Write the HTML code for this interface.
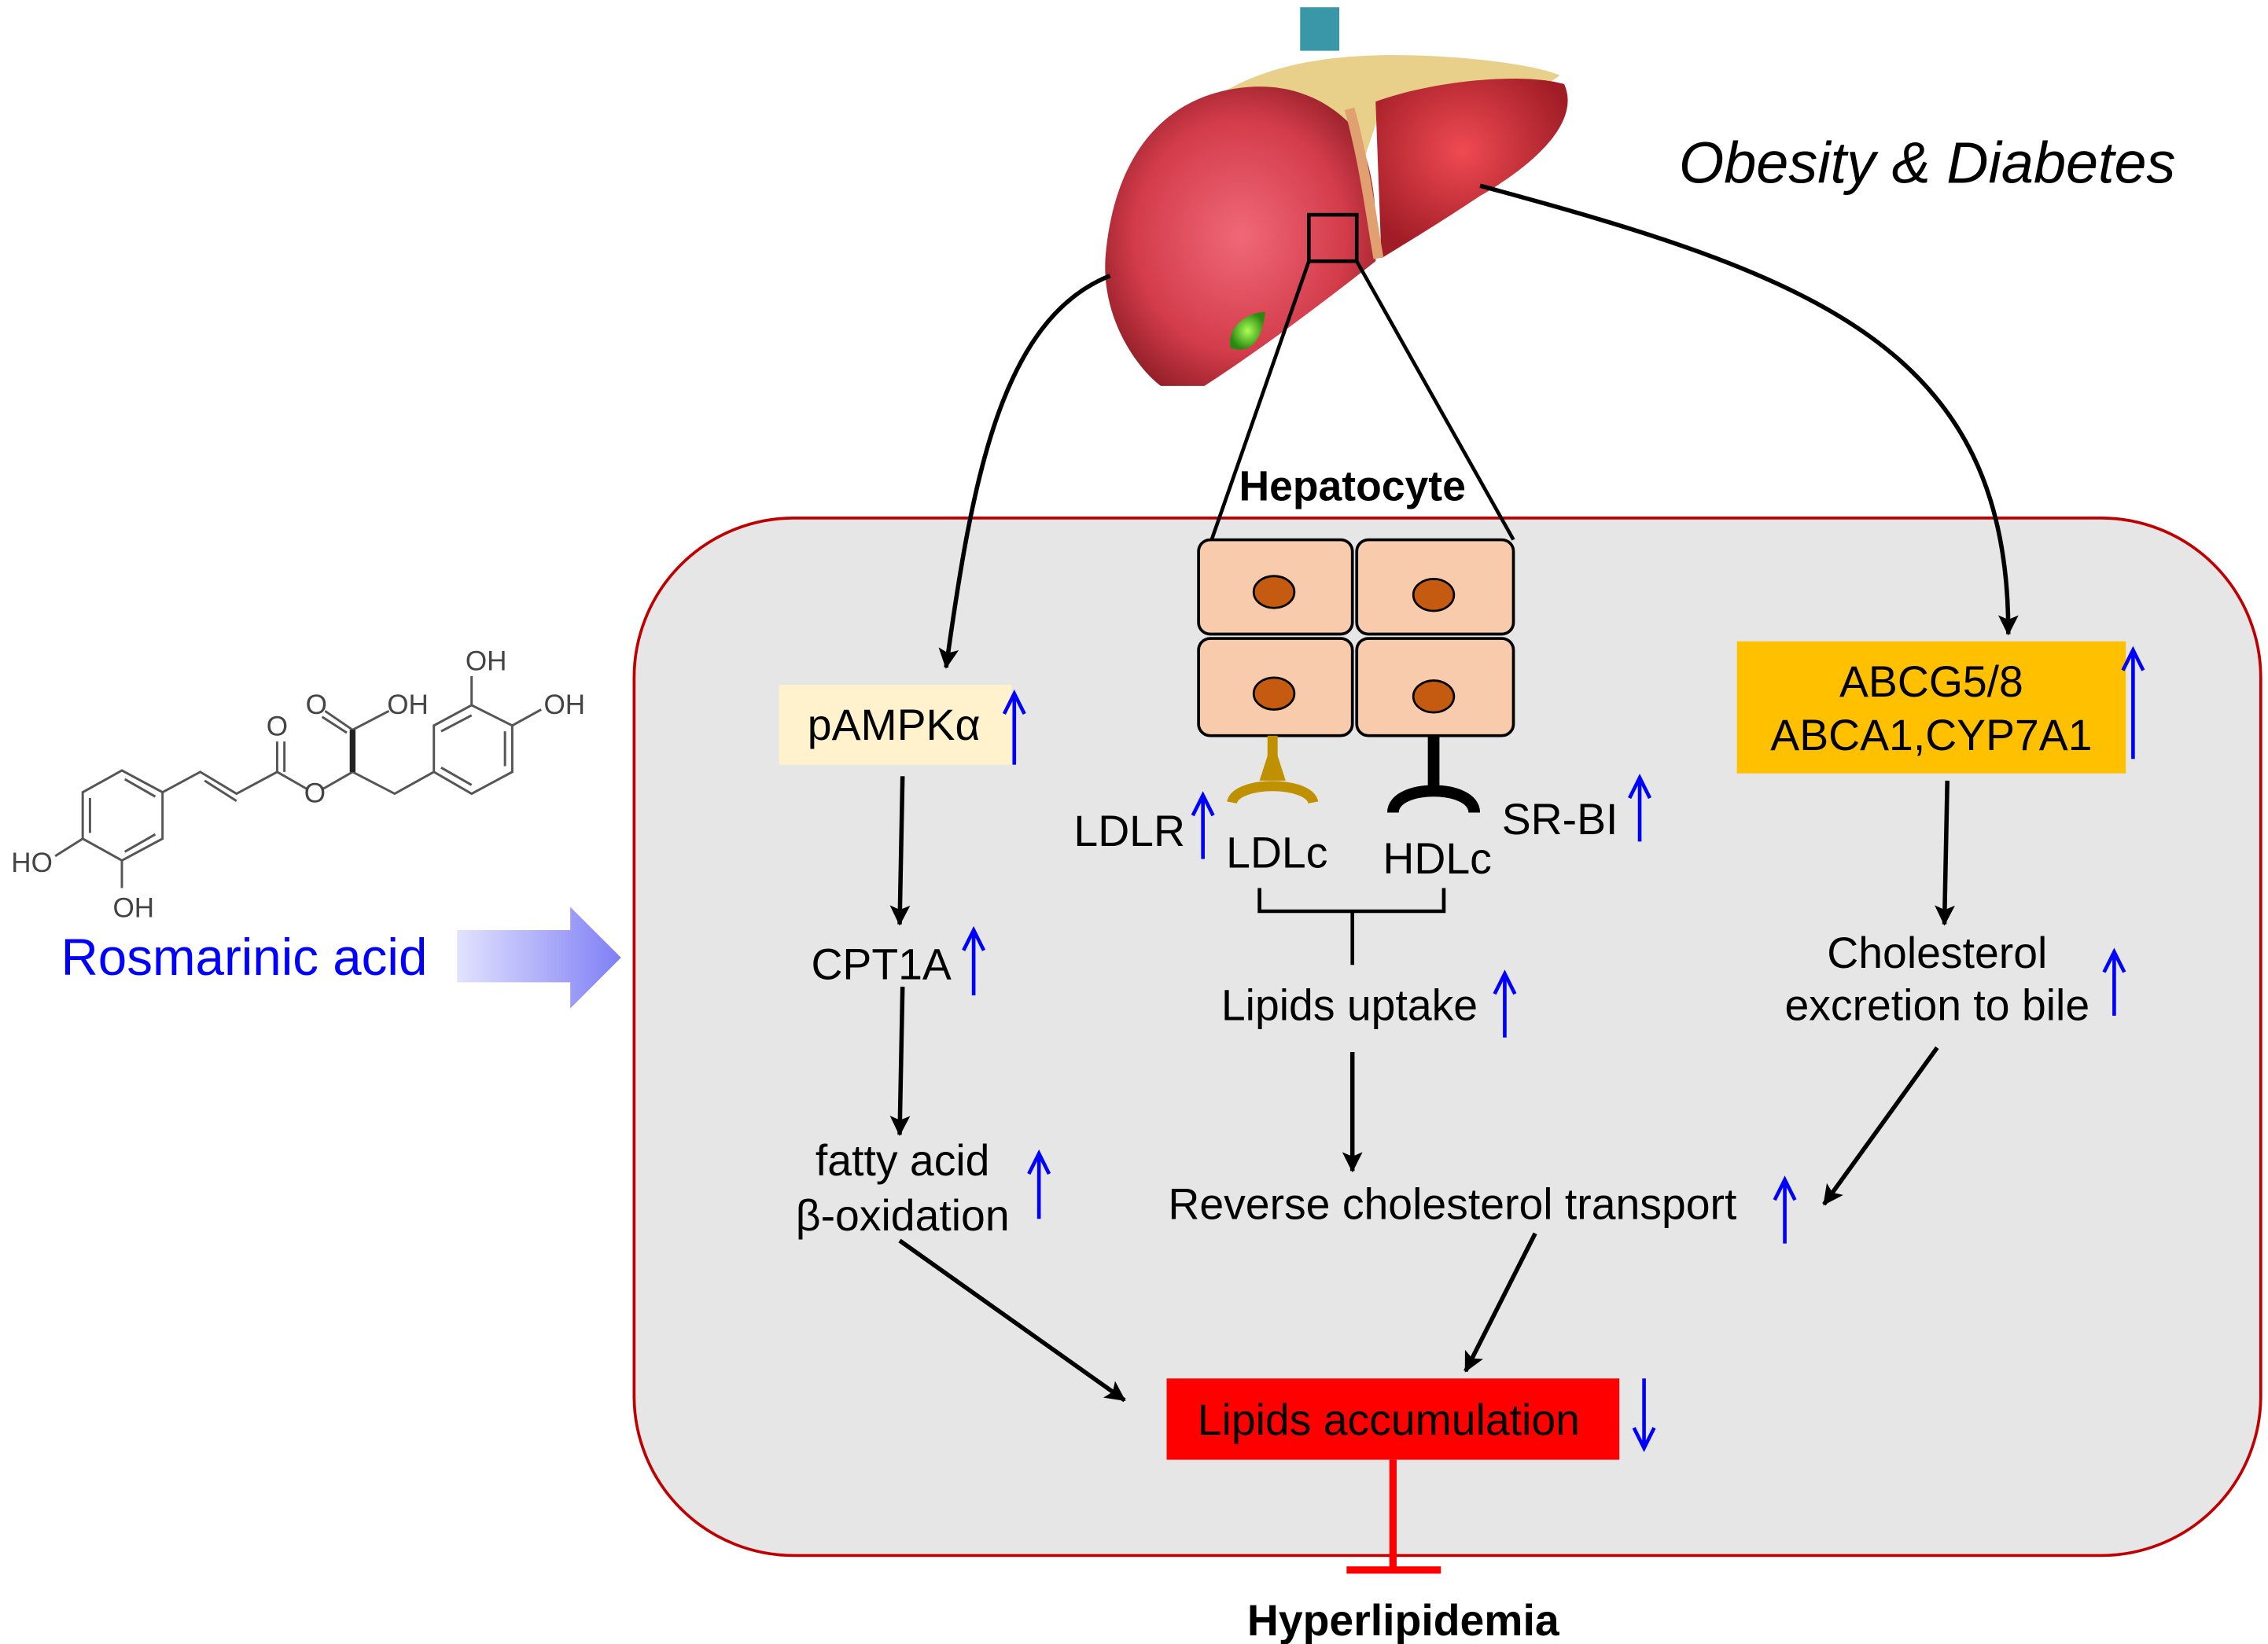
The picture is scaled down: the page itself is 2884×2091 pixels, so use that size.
<!DOCTYPE html>
<html><head><meta charset="utf-8"><style>
html,body{margin:0;padding:0;background:#fff;}
svg{display:block;}
text{font-family:"Liberation Sans",Arial,sans-serif;}
</style></head><body>
<svg width="2884" height="2091" viewBox="0 0 1563 1133" preserveAspectRatio="none" xmlns="http://www.w3.org/2000/svg">
<defs>
<marker id="ahs" markerWidth="18" markerHeight="18" refX="14" refY="8" orient="auto" markerUnits="userSpaceOnUse"><path d="M1,1 L15,8 L1,15 L4,8 Z" fill="#000"/></marker>
<linearGradient id="ga" x1="0" x2="1" y1="0" y2="0"><stop offset="0" stop-color="#e2e2ff"/><stop offset="1" stop-color="#7f7ff5"/></linearGradient>
<radialGradient id="lv" cx="0.5" cy="0.5" r="0.6"><stop offset="0" stop-color="#f06878"/><stop offset="0.65" stop-color="#d33c4a"/><stop offset="1" stop-color="#8c1c24"/></radialGradient>
<radialGradient id="lv2" cx="0.45" cy="0.4" r="0.6"><stop offset="0" stop-color="#ef4a52"/><stop offset="1" stop-color="#a01c26"/></radialGradient>
<radialGradient id="gb" cx="0.5" cy="0.5" r="0.5"><stop offset="0" stop-color="#aaff55"/><stop offset="1" stop-color="#2a8a10"/></radialGradient>
</defs>

<rect x="437" y="357" width="1121" height="715" rx="110" ry="110" fill="#e6e6e6" stroke="#c00000" stroke-width="2"/>

<!-- liver -->
<rect x="896" y="5" width="27" height="30" fill="#3a97a8"/>
<path d="M830,72 C860,50 900,38 960,38 C1010,38 1060,45 1075,52 L1060,62 C1000,60 960,70 950,80 L940,110 C920,80 880,65 830,72 Z" fill="#e8d08a"/>
<path d="M948,70 C990,55 1050,50 1078,58 C1090,85 1055,115 1020,135 C990,155 965,170 952,178 Z" fill="url(#lv2)"/>
<path d="M860,60 C800,65 768,110 762,175 C758,220 785,255 800,266 L830,266 C870,240 910,210 948,180 C950,140 945,105 930,85 C910,65 885,58 860,60 Z" fill="url(#lv)"/>
<path d="M930,75 C940,110 945,150 950,178" stroke="#e0a070" stroke-width="7" fill="none"/>
<path d="M848,240 C845,225 860,215 872,215 C870,230 865,245 848,240 Z" fill="url(#gb)"/>
<rect x="902" y="148" width="33" height="32" fill="none" stroke="#000" stroke-width="2.5"/>
<line x1="902" y1="180" x2="835" y2="372" stroke="#000" stroke-width="2.5"/>
<line x1="935" y1="180" x2="1043" y2="372" stroke="#000" stroke-width="2.5"/>

<path d="M765,190 C690,220 670,330 652,460" fill="none" stroke="#000" stroke-width="3" marker-end="url(#ahs)"/>
<path d="M1020,128 C1250,190 1385,240 1384,437" fill="none" stroke="#000" stroke-width="3" marker-end="url(#ahs)"/>

<text x="1157" y="126" font-size="40" font-style="italic">Obesity &amp; Diabetes</text>
<text x="932" y="345" font-size="29" font-weight="bold" text-anchor="middle">Hepatocyte</text>

<g fill="#f8cbad" stroke="#000" stroke-width="2">
<rect x="826" y="372" width="106" height="65" rx="8"/>
<rect x="935" y="372" width="108" height="65" rx="8"/>
<rect x="826" y="440" width="106" height="67" rx="8"/>
<rect x="935" y="440" width="108" height="67" rx="8"/>
</g>
<g fill="#c55a11" stroke="#000" stroke-width="1.5">
<ellipse cx="878" cy="408" rx="14" ry="11"/><ellipse cx="988" cy="410" rx="14" ry="11"/>
<ellipse cx="878" cy="478" rx="14" ry="11"/><ellipse cx="988" cy="480" rx="14" ry="11"/>
</g>
<path d="M877,507 L877,535 M849,553 C852,538 902,538 905,553" stroke="#bf9000" stroke-width="7" fill="none"/>
<path d="M868,538 L877,510 L886,538 Z" fill="#bf9000"/>
<path d="M988,507 L988,543 M960,560 C960,540 1016,540 1016,560" stroke="#000" stroke-width="8" fill="none"/>

<g font-size="30" fill="#000">
<text x="740" y="583">LDLR</text>
<text x="845" y="598">LDLc</text>
<text x="953" y="602">HDLc</text>
<text x="1035" y="575">SR-BI</text>
<text x="930" y="703" text-anchor="middle">Lipids uptake</text>
<text x="805" y="840">Reverse cholesterol transport</text>
<text x="559" y="675">CPT1A</text>
<text x="622" y="810" text-anchor="middle">fatty acid</text>
<text x="622" y="848" text-anchor="middle">β-oxidation</text>
<text x="1335" y="667" text-anchor="middle">Cholesterol</text>
<text x="1335" y="703" text-anchor="middle">excretion to bile</text>
</g>
<path d="M868,612 V628 H995 V612 M932,628 V665" stroke="#000" stroke-width="2.5" fill="none"/>

<rect x="537" y="472" width="160" height="55" fill="#fff2cc"/>
<text x="616" y="510" font-size="30" text-anchor="middle">pAMPKα</text>
<rect x="1197" y="442" width="268" height="91" fill="#ffc000"/>
<text x="1331" y="480" font-size="30" text-anchor="middle">ABCG5/8</text>
<text x="1331" y="517" font-size="30" text-anchor="middle">ABCA1,CYP7A1</text>
<rect x="804" y="950" width="312" height="56" fill="#ff0000"/>
<text x="957" y="989" font-size="30" text-anchor="middle">Lipids accumulation</text>

<g stroke="#000" stroke-width="3" fill="none" marker-end="url(#ahs)">
<line x1="622" y1="535" x2="620" y2="637"/>
<line x1="622" y1="680" x2="620" y2="782"/>
<line x1="620" y1="855" x2="775" y2="965"/>
<line x1="932" y1="725" x2="932" y2="807"/>
<line x1="1058" y1="850" x2="1010" y2="945"/>
<line x1="1342" y1="538" x2="1340" y2="637"/>
<line x1="1335" y1="722" x2="1257" y2="830"/>
</g>

<g stroke="#0000ff" stroke-width="2.5" fill="none">
<path d="M699,527 V480 M692,492 L699,478 L706,492"/>
<path d="M829,592 V550 M822,562 L829,548 L836,562"/>
<path d="M1130,580 V538 M1123,550 L1130,536 L1137,550"/>
<path d="M1037,715 V673 M1030,685 L1037,671 L1044,685"/>
<path d="M1230,857 V815 M1223,827 L1230,813 L1237,827"/>
<path d="M671,686 V643 M664,655 L671,641 L678,655"/>
<path d="M716,840 V797 M709,809 L716,795 L723,809"/>
<path d="M1470,523 V450 M1463,462 L1470,448 L1477,462"/>
<path d="M1457,700 V658 M1450,670 L1457,656 L1464,670"/>
<path d="M1133,950 V996 M1126,984 L1133,998 L1140,984"/>
</g>

<path d="M960,1006 V1082 M928,1082 H993" stroke="#ff0000" stroke-width="5" fill="none"/>
<text x="967" y="1127" font-size="30" font-weight="bold" text-anchor="middle">Hyperlipidemia</text>

<text x="42" y="672" font-size="35.5" fill="#0000ff">Rosmarinic acid</text>
<path d="M315,641 H393 V625 L428,660 L393,695 V677 H315 Z" fill="url(#ga)"/>

<g stroke="#555" stroke-width="1.6" fill="none">
<path d="M84,531 L112,546 L112,578 L84,593 L57,578 L57,546 Z"/>
<path d="M86,537 L107,549 M107,575 L86,587 M62,550 L62,574"/>
<path d="M112,546 L138,532 L163,547 L191,532 L191,511"/>
<path d="M141,538 L163,552 M196,532 L196,511"/>
<path d="M191,532 L212,544 M222,544 L243,532 L272,547 L299,532"/>
<path d="M243,532 L243,503 M243,503 L224,490 M239,505 L222,494 M243,503 L268,490"/>
<path d="M299,532 L299,500 L325,486 L353,500 L353,532 L325,547 Z"/>
<path d="M304,504 L325,493 M348,504 L348,528 M325,541 L304,529"/>
<path d="M325,486 L325,466 M353,500 L373,489"/>
<path d="M57,578 L38,590 M84,593 L84,612"/>
</g>
<path d="M241,532 L245,532 L245,503 L241,503 Z" fill="#222"/>
<g font-size="19" fill="#444">
<text x="191" y="507" text-anchor="middle">O</text>
<text x="217" y="553" text-anchor="middle">O</text>
<text x="218" y="492" text-anchor="middle">O</text>
<text x="281" y="492" text-anchor="middle">OH</text>
<text x="335" y="462" text-anchor="middle">OH</text>
<text x="389" y="492" text-anchor="middle">OH</text>
<text x="22" y="601" text-anchor="middle">HO</text>
<text x="92" y="632" text-anchor="middle">OH</text>
</g>
</svg>
</body></html>
